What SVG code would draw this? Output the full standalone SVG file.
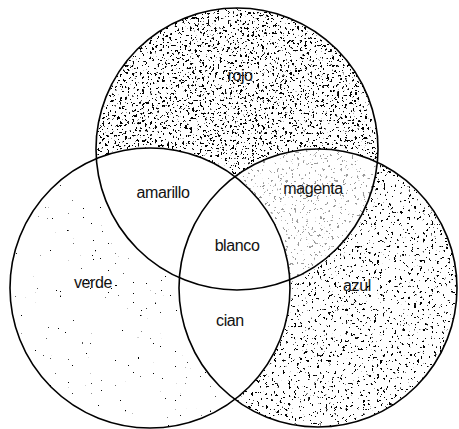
<svg xmlns="http://www.w3.org/2000/svg" width="459" height="429" viewBox="0 0 459 429">
<style>
.lbl{font-family:"Liberation Sans","DejaVu Sans",sans-serif;font-size:16px;fill:#111;text-anchor:middle;letter-spacing:-0.4px}
.ring{fill:none;stroke:#000;stroke-width:1.6}
filter{color-interpolation-filters:sRGB}
</style>
<defs>
<clipPath id="cTop"><circle cx="237" cy="149" r="141"/></clipPath>
<clipPath id="cLeft"><circle cx="150" cy="288" r="140"/></clipPath>
<clipPath id="cRight"><circle cx="318" cy="288" r="139"/></clipPath>
<filter id="dense" filterUnits="userSpaceOnUse" x="0" y="0" width="459" height="429">
<feTurbulence type="fractalNoise" baseFrequency="0.4" numOctaves="3" seed="4"/>
<feColorMatrix type="matrix" values="0 0 0 0 0 0 0 0 0 0 0 0 0 0 0 30 0 0 0 -18.6"/>
</filter>
<filter id="medium" filterUnits="userSpaceOnUse" x="0" y="0" width="459" height="429">
<feTurbulence type="fractalNoise" baseFrequency="0.35" numOctaves="3" seed="9"/>
<feColorMatrix type="matrix" values="0 0 0 0 0 0 0 0 0 0 0 0 0 0 0 30 0 0 0 -19.9"/>
</filter>
<filter id="sparse" filterUnits="userSpaceOnUse" x="0" y="0" width="459" height="429">
<feTurbulence type="fractalNoise" baseFrequency="0.4" numOctaves="3" seed="17"/>
<feColorMatrix type="matrix" values="0 0 0 0 0 0 0 0 0 0 0 0 0 0 0 30 0 0 0 -24"/>
</filter>
</defs>
<rect width="459" height="429" fill="#fff"/>
<g id="textures">
<g clip-path="url(#cTop)"><rect width="459" height="429" filter="url(#dense)"/></g>
<g clip-path="url(#cRight)"><rect width="459" height="429" fill="#fff"/><rect width="459" height="429" filter="url(#medium)"/></g>
<g clip-path="url(#cTop)"><g clip-path="url(#cRight)"><rect width="459" height="429" fill="#fff" opacity="0.6"/></g></g>
<g clip-path="url(#cLeft)"><rect width="459" height="429" fill="#fff"/><rect width="459" height="429" filter="url(#sparse)"/></g>
<g clip-path="url(#cLeft)"><circle cx="237" cy="149" r="141" fill="#fff"/><circle cx="318" cy="288" r="139" fill="#fff"/></g>
</g>
<g id="connectors"></g>
<g id="rojo"><circle class="ring" cx="237" cy="149" r="141"/><text class="lbl" x="240" y="81">rojo</text></g>
<g id="verde"><circle class="ring" cx="150" cy="288" r="140"/><text class="lbl" x="93" y="288">verde</text></g>
<g id="azul"><circle class="ring" cx="318" cy="288" r="139"/><text class="lbl" x="357" y="291">azul</text></g>
<g id="amarillo"><text class="lbl" x="163" y="198">amarillo</text></g>
<g id="magenta"><text class="lbl" x="313" y="194">magenta</text></g>
<g id="blanco"><text class="lbl" x="237" y="251">blanco</text></g>
<g id="cian"><text class="lbl" x="230" y="326">cian</text></g>
</svg>
